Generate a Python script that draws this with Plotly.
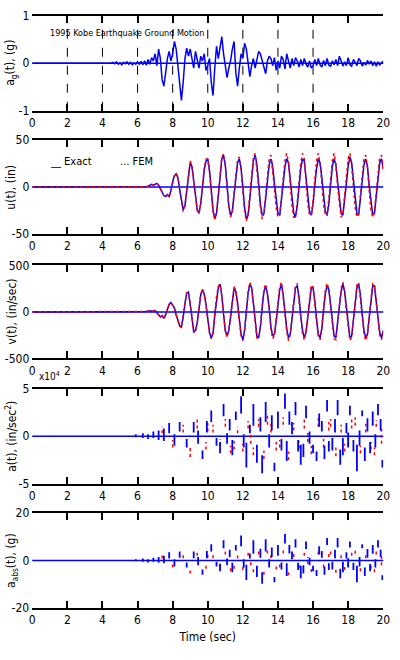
import plotly.graph_objects as go

# ---------------- data (sampled every 0.1 s from 4.5 s; quiet before) ----------------
T_START = 4.5
T_STEP = 0.1

ground_acc_g = [
    0, 0.02, -0.01, 0.03, -0.02,
    0.01, -0.03, 0.02, -0.01, 0.03, -0.02, 0.02, -0.03, 0.01, -0.02,
    0.03, -0.02, 0.04, -0.03, 0.05, -0.04, 0.08, -0.02, 0.12, 0.05,
    0.2, -0.05, 0.3, 0.1, -0.35, -0.48, -0.2, 0.1, 0.25, 0.05,
    0.2, 0.46, 0.3, -0.1, -0.5, -0.78, -0.4, 0.1, 0.32, 0.15,
    0.3, 0.05, -0.1, 0.25, 0.1, -0.1, 0.15, 0.05, 0.2, -0.15,
    -0.05, 0.1, -0.4, -0.68, -0.1, 0.36, 0.1, 0.3, 0.56, 0.2,
    -0.1, -0.3, -0.1, 0.05, 0.3, 0.46, -0.2, -0.48, -0.1, 0.2,
    0.1, 0.42, 0.3, -0.05, -0.28, -0.05, 0.1, -0.1, 0.05, 0.25,
    0.2, 0.05, -0.1, -0.22, 0.05, 0.15, 0.1, -0.05, 0.12, -0.15,
    0.05, -0.1, 0.15, 0.08, -0.12, 0.2, 0.05, -0.1, 0.1, -0.05,
    0.12, 0.05, -0.08, 0.08, -0.05, 0.1, -0.02, -0.08, 0.05, -0.1,
    -0.05, 0.08, -0.05, 0.1, -0.03, -0.08, 0.06, -0.05, 0.1, -0.04,
    -0.06, 0.05, -0.03, 0.08, -0.05, 0.15, 0.05, -0.06, 0.03, -0.05,
    0.12, -0.03, -0.06, 0.08, 0.02, -0.05, 0.1, 0.05, -0.06, 0.02,
    -0.04, 0.06, -0.02, 0.05, -0.05, 0.03, -0.06, 0.02, -0.03, 0.02,
    0.05,
]

disp_exact_in = [
    0, 0, 0, 0, 0,
    0, 0, 0, 0, 0, 0, 0, 0, 0, 0,
    0, 0, 0.5, 0, 0.5, 0.5, 1, 2, 3, 2,
    3, 4, 2, -2, -6, -9, -10, -8, -10, -4,
    6, 12, 14, 10, -2, -16, -24, -20, -4, 14,
    26, 22, 8, -10, -24, -28, -18, 0, 18, 28,
    30, 18, -4, -24, -34, -28, -10, 12, 30, 34,
    24, 2, -20, -30, -26, -8, 12, 26, 30, 20,
    0, -22, -34, -30, -12, 10, 28, 34, 24, 4,
    -18, -30, -28, -12, 8, 24, 30, 22, 4, -16,
    -28, -30, -16, 4, 22, 30, 26, 8, -14, -28,
    -32, -20, 0, 20, 30, 28, 10, -12, -26, -30,
    -18, 2, 20, 30, 26, 10, -12, -26, -30, -18,
    2, 22, 30, 24, 6, -14, -28, -30, -16, 4,
    22, 32, 26, 6, -16, -28, -30, -14, 6, 24,
    30, 22, 2, -18, -30, -28, -12, 10, 26, 30,
    20,
]

disp_fem_in = [
    0, 0, 0, 0, 0,
    0, 0, 0, 0, 0, 0, 0, 0, 0, 0,
    0, 0, 0.5, 0, 0.5, 0.5, 1, 2, 3, 2,
    3, 4, 2, -2, -6, -9, -10, -8, -11, -4,
    6, 12, 15, 10, -3, -17, -26, -20, -4, 15,
    28, 22, 7, -11, -25, -28, -17, 2, 20, 30,
    30, 16, -6, -26, -34, -26, -8, 14, 32, 35,
    22, 0, -22, -32, -26, -6, 14, 30, 32, 18,
    -4, -26, -36, -28, -8, 14, 32, 36, 20, 0,
    -22, -34, -28, -8, 14, 30, 34, 18, -2, -22,
    -32, -30, -12, 10, 28, 36, 26, 4, -20, -32,
    -32, -16, 6, 26, 36, 30, 6, -18, -30, -30,
    -14, 8, 28, 36, 24, 4, -18, -30, -30, -12,
    10, 28, 36, 24, 0, -20, -32, -28, -10, 12,
    30, 36, 22, 0, -22, -32, -28, -8, 14, 30,
    34, 20, -4, -24, -32, -26, -6, 16, 32, 34,
    16,
]

vel_exact_ips = [
    0, 0, 0, 0, 0,
    0, 0, 0, 0, 0, 0, 0, 0, 0, 0,
    0, 2, 5, -3, 5, 5, 10, 8, 5, 10,
    15, -10, -40, -55, -40, -70, -30, 30, 80, 102,
    70, 40, -30, -100, -150, -163, -60, 90, 200, 214,
    100, -60, -214, -200, -120, 30, 180, 240, 190, 80,
    -60, -220, -280, -230, -40, 150, 260, 300, 180, -20,
    -200, -260, -200, -60, 120, 260, 220, 100, -80, -240,
    -300, -200, 0, 200, 300, 260, 100, -120, -260, -280,
    -160, 40, 220, 280, 200, 40, -160, -260, -240, -100,
    100, 240, 300, 180, 0, -180, -280, -240, -80, 120,
    260, 280, 160, -40, -200, -280, -220, -60, 140, 260,
    260, 120, -80, -240, -280, -180, 20, 200, 280, 240,
    80, -120, -260, -280, -140, 60, 220, 300, 220, 40,
    -160, -280, -260, -100, 100, 260, 300, 180, -20, -200,
    -280, -240, -60, 140, 280, 280, 140, -60, -220, -280,
    -200,
]

vel_fem_ips = [
    0, 0, 0, 0, 0,
    0, 0, 0, 0, 0, 0, 0, 0, 0, 0,
    0, 2, 5, -3, 5, 5, 10, 8, 5, 10,
    15, -10, -42, -58, -40, -72, -30, 32, 82, 100,
    68, 38, -32, -104, -156, -166, -58, 96, 206, 212,
    96, -66, -220, -204, -116, 40, 190, 246, 186, 70,
    -72, -230, -290, -226, -28, 164, 272, 300, 168, -36,
    -214, -270, -196, -46, 138, 272, 224, 90, -96, -256,
    -310, -190, 20, 220, 316, 256, 80, -140, -280, -284,
    -150, 60, 240, 300, 196, 20, -180, -290, -250, -80,
    120, 270, 320, 170, -20, -210, -310, -240, -56, 150,
    290, 300, 150, -64, -230, -300, -210, -36, 170, 290,
    270, 100, -110, -270, -300, -170, 44, 230, 310, 240,
    56, -150, -290, -300, -130, 90, 250, 320, 210, 10,
    -190, -310, -270, -80, 130, 290, 320, 160, -50, -230,
    -310, -240, -36, 170, 310, 290, 120, -90, -250, -300,
    -190,
]

# relative acceleration shown as vertical spike extents (units of 1e4 in/sec^2)
acc_ex_t = [5.9, 6.3, 6.6, 6.9, 7.2, 7.5, 7.8, 8.1, 8.4, 8.8, 9.2, 9.7, 10.2, 10.5, 10.9, 11.1,
            11.4, 11.6, 11.9, 12.2, 12.4, 12.6, 12.8, 13.1, 13.3, 13.5, 13.8, 14.0, 14.2, 14.4,
            14.5, 14.8, 15.0, 15.3, 15.6, 15.8, 16.0, 16.2, 16.5, 16.8, 16.9, 17.1, 17.4, 17.7,
            17.9, 18.1, 18.3, 18.5, 18.8, 19.1, 19.25, 19.4, 19.55, 19.7, 19.95,
            9.45, 9.95, 10.7, 11.25, 12.05, 13.0, 13.65, 14.65, 15.15, 15.45, 16.35, 16.65,
            17.25, 17.55, 18.0, 18.65, 18.95, 19.85]
acc_ex_lo = [-0.1, -0.2, -0.3, -0.2, -0.4, -0.5, 0.3, -1.0, 0.5, -1.2, 0.4, -2.4, 1.5, -1.0, 2.1, -0.8,
             -2.0, 1.7, 2.4, -3.3, 0.3, 1.1, -2.8, -3.9, 1.5, -1.2, -3.7, 0.8, -1.5, 2.9,
             -2.6, 0.2, 2.2, -3.0, 1.9, -0.8, -1.8, -2.6, 0.5, 2.6, -1.6, -1.5, 2.2, -2.0,
             0.3, 2.2, -1.6, -3.7, 2.1, 0.5, -1.8, 1.1, -1.2, 2.2, -3.3,
             -0.8, 0.4, -1.8, 0.6, -1.2, 0.5, 0.6, 1.2, -1.6, -2.2, 1.0, -2.4,
             0.4, -3.0, -1.2, -1.0, -2.6, 0.6]
acc_ex_hi = [0.2, 0.3, 0.2, 0.5, 0.6, 0.8, 1.4, 0.2, 1.5, -0.3, 1.5, -1.5, 2.7, -0.2, 3.4, 0.3,
             -0.4, 2.6, 4.2, -0.7, 1.2, 3.4, -0.9, -2.0, 3.6, 0.2, -2.8, 2.6, -0.3, 4.5,
             -0.5, 1.5, 3.6, -0.9, 3.2, 0.5, -0.9, -1.6, 1.6, 3.8, -0.5, -0.2, 3.8, -0.2,
             1.4, 3.2, -0.4, -0.9, 2.7, 1.9, -0.6, 2.6, 0.2, 3.4, -2.5,
             0.6, 1.6, -0.6, 1.8, 0.2, 2.0, 2.2, 2.6, -0.4, -0.8, 2.4, -1.0,
             1.8, -1.4, 0.4, 0.6, -1.2, 1.8]

acc_fem_t = [7.4, 8.0, 8.6, 9.0, 9.4, 9.9, 10.3, 10.7, 11.0, 11.3, 11.7, 12.0, 12.3, 12.6, 12.9,
             13.2, 13.6, 13.9, 14.3, 14.6, 14.9, 15.2, 15.5, 15.9, 16.3, 16.6, 17.0, 17.3, 17.6,
             18.0, 18.4, 18.7, 19.0, 19.3, 19.6, 19.9,
             10.0, 11.5, 12.45, 13.4, 14.1, 15.7, 16.9, 17.8, 18.2, 19.5]
acc_fem_lo = [0.3, -1.2, 0.4, -2.2, 0.8, -1.4, 0.4, -1.0, 1.0, -1.8, 0.3, -1.6, 0.8, -2.0, 1.0,
              -2.4, 0.4, -1.5, 1.2, -2.5, 0.6, -1.3, 0.8, -1.9, 1.0, -1.2, 1.0, -2.1, 0.4,
              -1.0, 1.1, -1.8, 0.4, -1.4, 1.0, -0.8,
              0.5, -1.4, -0.8, 1.2, -1.2, -0.6, 0.6, -1.6, 0.8, -2.0]
acc_fem_hi = [1.0, -0.4, 1.2, -1.2, 1.8, -0.6, 1.2, -0.3, 1.8, -1.0, 1.0, -0.8, 1.6, -1.2, 1.8,
              -1.5, 1.3, -0.6, 2.0, -1.6, 1.4, -0.5, 1.8, -1.0, 1.9, -0.3, 1.8, -1.2, 1.2,
              -0.2, 2.0, -1.0, 1.3, -0.6, 1.7, 0.9,
              1.4, -0.5, 0.2, 2.2, -0.4, 0.6, 1.5, -0.8, 1.8, -1.2]

# absolute acceleration spikes (g)
aabs_ex_t = [5.9, 6.3, 6.6, 6.9, 7.2, 7.5, 7.8, 8.1, 8.4, 8.8, 9.2, 9.7, 10.2, 10.5, 10.9, 11.1,
             11.4, 11.6, 11.9, 12.2, 12.4, 12.6, 12.8, 13.1, 13.3, 13.5, 13.8, 14.0, 14.2, 14.4,
             14.5, 14.8, 15.0, 15.3, 15.6, 15.8, 16.0, 16.2, 16.5, 16.8, 16.9, 17.1, 17.4, 17.7,
             17.9, 18.1, 18.3, 18.5, 18.8, 19.1, 19.25, 19.4, 19.55, 19.7, 19.95,
             9.45, 9.95, 10.7, 11.25, 12.05, 13.0, 13.65, 14.65, 15.15, 15.45, 16.35, 16.65,
             17.25, 17.55, 18.0, 18.65, 18.95, 19.85]
aabs_ex_lo = [-0.3, -0.5, -0.8, -0.5, -1.0, -1.2, 0.8, -2.5, 1.2, -3.0, 1.0, -6.0, 3.8, -2.5, 5.2, -2.0,
              -5.0, 4.2, 6.0, -8.2, 0.8, 2.8, -7.0, -9.8, 3.8, -3.0, -9.2, 2.0, -3.8, 7.2,
              -6.5, 0.5, 5.5, -7.5, 4.8, -2.0, -4.5, -6.5, 1.2, 6.5, -4.0, -3.8, 5.5, -5.0,
              0.8, 5.5, -4.0, -9.2, 5.2, 1.2, -4.5, 2.8, -3.0, 5.5, -8.2,
              -2.0, 1.0, -4.5, 1.5, -3.0, 1.2, 1.5, 3.0, -4.0, -5.5, 2.5, -6.0,
              1.0, -7.5, -3.0, -2.5, -6.5, 1.5]
aabs_ex_hi = [0.5, 0.8, 0.5, 1.2, 1.5, 2.0, 3.5, 0.5, 3.8, -0.8, 3.8, -3.8, 6.8, -0.5, 8.5, 0.8,
              -1.0, 6.5, 10.5, -1.8, 3.0, 8.5, -2.2, -5.0, 9.0, 0.5, -7.0, 6.5, -0.8, 11.2,
              -1.2, 3.8, 9.0, -2.2, 8.0, 1.2, -2.2, -4.0, 4.0, 9.5, -1.2, -0.5, 9.5, -0.5,
              3.5, 8.0, -1.0, -2.2, 6.8, 4.8, -1.5, 6.5, 0.5, 8.5, -6.2,
              1.5, 4.0, -1.5, 4.5, 0.5, 5.0, 5.5, 6.5, -1.0, -2.0, 6.0, -2.5,
              4.5, -3.5, 1.0, 1.5, -3.0, 4.5]
aabs_fem_t = [7.4, 8.0, 8.6, 9.0, 9.4, 9.9, 10.3, 10.7, 11.0, 11.3, 11.7, 12.0, 12.3, 12.6, 12.9,
              13.2, 13.6, 13.9, 14.3, 14.6, 14.9, 15.2, 15.5, 15.9, 16.3, 16.6, 17.0, 17.3, 17.6,
              18.0, 18.4, 18.7, 19.0, 19.3, 19.6, 19.9,
              10.0, 11.5, 12.45, 13.4, 14.1, 15.7, 16.9, 17.8, 18.2, 19.5]
aabs_fem_lo = [0.8, -3.0, 1.0, -5.5, 2.0, -3.5, 1.0, -2.5, 2.5, -4.5, 0.8, -4.0, 2.0, -5.0, 2.5,
               -6.0, 1.0, -3.8, 3.0, -6.2, 1.5, -3.2, 2.0, -4.8, 2.5, -3.0, 2.5, -5.2, 1.0,
               -2.5, 2.8, -4.5, 1.0, -3.5, 2.5, -2.0,
               1.2, -3.5, -2.0, 3.0, -3.0, -1.5, 1.5, -4.0, 2.0, -5.0]
aabs_fem_hi = [2.5, -1.0, 3.0, -3.0, 4.5, -1.5, 3.0, -0.8, 4.5, -2.5, 2.5, -2.0, 4.0, -3.0, 4.5,
               -3.8, 3.2, -1.5, 5.0, -4.0, 3.5, -1.2, 4.5, -2.5, 4.8, -0.8, 4.5, -3.0, 3.0,
               -0.5, 5.0, -2.5, 3.2, -1.5, 4.2, 2.2,
               3.5, -1.2, 0.5, 5.5, -1.0, 1.5, 3.8, -2.0, 4.5, -3.0]

x_ticks = [0, 2, 4, 6, 8, 10, 12, 14, 16, 18, 20]
grid_times = [2, 4, 6, 8, 10, 12, 14, 16]

BLUE = "rgb(0,0,255)"
RED = "rgb(255,0,0)"
FONT = "DejaVu Sans Condensed, Liberation Sans Narrow, Liberation Sans, Arial, sans-serif"


def times(vals):
    return [0.0] + [round(T_START + T_STEP * i, 2) for i in range(len(vals))]


def series(vals):
    return [0.0] + list(vals)


def spikes(ts, lo, hi):
    xs, ys = [], []
    for t, a, b in zip(ts, lo, hi):
        xs += [t, t, None]
        ys += [a, b, None]
    return xs, ys


fig = go.Figure()

# panel 1
fig.add_trace(go.Scatter(x=times(ground_acc_g), y=series(ground_acc_g), mode="lines",
                         line=dict(color=BLUE, width=1.5), xaxis="x", yaxis="y"))
# panel 2
fig.add_trace(go.Scatter(x=times(disp_exact_in), y=series(disp_exact_in), mode="lines",
                         line=dict(color=BLUE, width=1.5), xaxis="x2", yaxis="y2"))
fig.add_trace(go.Scatter(x=times(disp_fem_in), y=series(disp_fem_in), mode="lines",
                         line=dict(color=RED, width=1.5, dash="dot"), xaxis="x2", yaxis="y2"))
# panel 3
fig.add_trace(go.Scatter(x=times(vel_exact_ips), y=series(vel_exact_ips), mode="lines",
                         line=dict(color=BLUE, width=1.5), xaxis="x3", yaxis="y3"))
fig.add_trace(go.Scatter(x=times(vel_fem_ips), y=series(vel_fem_ips), mode="lines",
                         line=dict(color=RED, width=1.5, dash="dot"), xaxis="x3", yaxis="y3"))
# panel 4
xs, ys = spikes(acc_fem_t, acc_fem_lo, acc_fem_hi)
fig.add_trace(go.Scatter(x=xs, y=ys, mode="lines", connectgaps=False,
                         line=dict(color=RED, width=1.5, dash="dot"), xaxis="x4", yaxis="y4"))
xs, ys = spikes(acc_ex_t, acc_ex_lo, acc_ex_hi)
fig.add_trace(go.Scatter(x=xs, y=ys, mode="lines", connectgaps=False,
                         line=dict(color=BLUE, width=1.8), xaxis="x4", yaxis="y4"))
# panel 5
xs, ys = spikes(aabs_fem_t, aabs_fem_lo, aabs_fem_hi)
fig.add_trace(go.Scatter(x=xs, y=ys, mode="lines", connectgaps=False,
                         line=dict(color=RED, width=1.5, dash="dot"), xaxis="x5", yaxis="y5"))
xs, ys = spikes(aabs_ex_t, aabs_ex_lo, aabs_ex_hi)
fig.add_trace(go.Scatter(x=xs, y=ys, mode="lines", connectgaps=False,
                         line=dict(color=BLUE, width=1.8), xaxis="x5", yaxis="y5"))

H = 660.0
panels = [  # (top px, bottom px, range, tickvals, ticktext, ylabel)
    (9, 106, [-1, 1], [-1, 0, 1], ["-1", "0", "1"], "a<sub>g</sub>(t), (g)"),
    (136, 232, [-50, 50], [-50, 0, 50], ["-50", "0", "50"], "u(t), (in)"),
    (264, 359, [-500, 500], [-500, 0, 500], ["-500", "0", "500"], "v(t), (in/sec)"),
    (390, 487, [-5, 5], [-5, 0, 5], ["-5", "0", "5"], "a(t), (in/sec<sup>2</sup>)"),
    (517, 614, [-20, 20], [-20, 0, 20], ["-20", "0", "20"], "a<sub>abs</sub>(t), (g)"),
]

layout = dict(
    width=400, height=660, margin=dict(l=0, r=0, t=0, b=0),
    paper_bgcolor="white", plot_bgcolor="white", showlegend=False,
    font=dict(family=FONT, size=12, color="black"),
)
annotations = []
shapes = []
for i, (top, bot, rng, tv, tt, ylab) in enumerate(panels, start=1):
    sfx = "" if i == 1 else str(i)
    ydom = [1 - bot / H, 1 - top / H]
    layout["xaxis" + sfx] = dict(
        domain=[0.075, 0.975], range=[0, 20], anchor="y" + sfx,
        tickmode="array", tickvals=x_ticks, ticktext=[str(v) for v in x_ticks],
        ticks="inside", ticklen=7, tickwidth=1.5, tickcolor="black",
        showline=True, linecolor="black", linewidth=2, mirror="ticks",
        showgrid=False, zeroline=False, tickfont=dict(size=12, family=FONT),
        title=dict(text="Time (sec)", font=dict(size=12, family=FONT), standoff=6) if i == 5 else None,
    )
    layout["yaxis" + sfx] = dict(
        domain=ydom, range=rng, anchor="x" + sfx,
        tickmode="array", tickvals=tv, ticktext=tt, ticks="",
        showline=False, showgrid=False, zeroline=False,
        tickfont=dict(size=12, family=FONT), ticklabelstandoff=2,
    )
    annotations.append(dict(
        text=ylab, xref="paper", yref="paper", x=0.022, y=(ydom[0] + ydom[1]) / 2,
        textangle=-90, showarrow=False, xanchor="center", yanchor="middle",
        font=dict(size=12, family=FONT),
    ))
    # blue zero baseline
    shapes.append(dict(type="line", xref="x" + sfx + " domain" if sfx else "x domain",
                       yref="y" + sfx, x0=0, x1=1, y0=0, y1=0,
                       line=dict(color=BLUE, width=1.5), layer="below"))

# dashed grid in panel 1
for g in grid_times:
    shapes.append(dict(type="line", xref="x", yref="y domain", x0=g, x1=g, y0=0, y1=1,
                       line=dict(color="black", width=1, dash="dash"), layer="below"))

annotations.append(dict(text="1995 Kobe Earthquake Ground Motion", xref="x", yref="y",
                        x=0.9, y=0.64, xanchor="left", yanchor="middle", showarrow=False,
                        font=dict(size=9, family=FONT)))
annotations.append(dict(text="__ Exact", xref="x2", yref="y2", x=0.9, y=27,
                        xanchor="left", yanchor="middle", showarrow=False,
                        font=dict(size=11, family=FONT)))
annotations.append(dict(text="... FEM", xref="x2", yref="y2", x=4.9, y=27,
                        xanchor="left", yanchor="middle", showarrow=False,
                        font=dict(size=11, family=FONT)))
annotations.append(dict(text="x10<sup>4</sup>", xref="paper", yref="paper",
                        x=0.088, y=1 - 377 / H, xanchor="left", yanchor="middle",
                        showarrow=False, font=dict(size=10, family=FONT)))

layout["annotations"] = annotations
layout["shapes"] = shapes
fig.update_layout(**layout)
fig.write_html("out.html")
